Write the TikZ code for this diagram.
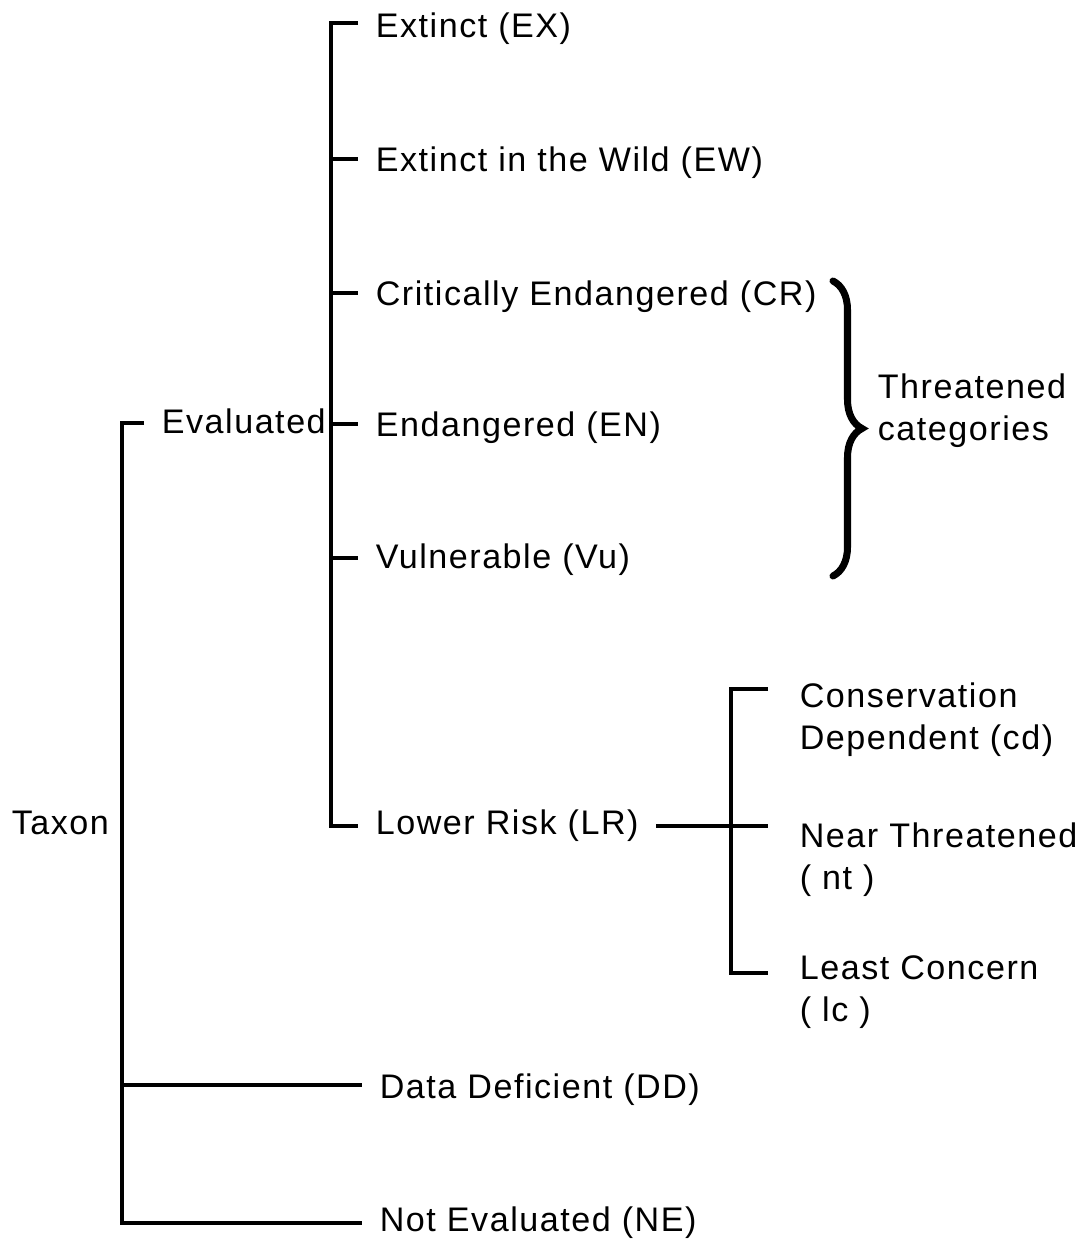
\documentclass[tikz,border=0pt]{standalone}
\usepackage{fontspec}
\setmainfont{Liberation Sans}[LetterSpace=4.5]
\usetikzlibrary{positioning,decorations.pathreplacing}

\begin{document}
\begin{tikzpicture}[x=0.02cm, y=-0.02cm, line width=2.1pt,
	font=\fontsize{19.4}{23.9}\selectfont,
	lbl/.style={inner sep=0pt, anchor=base west},
	cat/.style={lbl, inner xsep=0.32cm},
	sub/.style={lbl, inner xsep=0.6cm, align=left}]
	\useasboundingbox (0,0) rectangle (1090,1240);

	% labels (two-line ones sit on the baseline of their last line)
	\node [lbl] (taxon) at (10,834) {Taxon};
	\node [cat] (eval) at (144,433) {Evaluated};
	\node [cat] (ex) at (358,38) {Extinct (EX)};
	\node [cat] (ew) at (358,172) {Extinct in the Wild (EW)};
	\node [cat] (cr) at (358,305) {Critically Endangered (CR)};
	\node [cat] (en) at (358,436) {Endangered (EN)};
	\node [cat] (vu) at (358,568) {Vulnerable (Vu)};
	\node [cat] (lr) at (358,834) {Lower Risk (LR)};
	\node [cat] (dd) at (362,1098) {Data Deficient (DD)};
	\node [cat] (ne) at (362,1231) {Not Evaluated (NE)};
	\node [sub] (cd) at (768,749) {Conservation\\Dependent (cd)};
	\node [sub] (nt) at (768,889) {Near Threatened\\( nt )};
	\node [sub] (lc) at (768,1021) {Least Concern\\( lc )};
	\node [lbl, align=left] (threat) at (876,440) {Threatened\\categories};

	% branch points
	\coordinate (t0) at (122,423);
	\coordinate (t1) at (122,1085);
	\coordinate (t2) at (122,1223);
	\coordinate (e0) at (331,23);
	\coordinate (e1) at (331,159);
	\coordinate (e2) at (331,293);
	\coordinate (e3) at (331,424);
	\coordinate (e4) at (331,558);
	\coordinate (e5) at (331,826);
	\coordinate (l0) at (731,689);
	\coordinate (l1) at (731,826);
	\coordinate (l2) at (731,973);
	\coordinate (b0) at (833,281);
	\coordinate (b1) at (833,576);

	\draw (t0 -| eval.west) -- (t0) -- (t2) -- (t2 -| ne.west);
	\draw (t1) -- (t1 -| dd.west);
	\draw (e0 -| ex.west) -- (e0) -- (e5) -- (e5 -| lr.west);
	\foreach \c/\n in {e1/ew, e2/cr, e3/en, e4/vu}
		\draw (\c) -- (\c -| \n.west);
	\draw (l0 -| cd.west) -- (l0) -- (l2) -- (l2 -| lc.west);
	\draw (l1 -| lr.east) -- (l1 -| nt.west);

	\draw [line width=4pt, line cap=round, decorate,
		decoration={brace, amplitude=0.58cm}] (b0) -- (b1);

\end{tikzpicture}
\end{document}
